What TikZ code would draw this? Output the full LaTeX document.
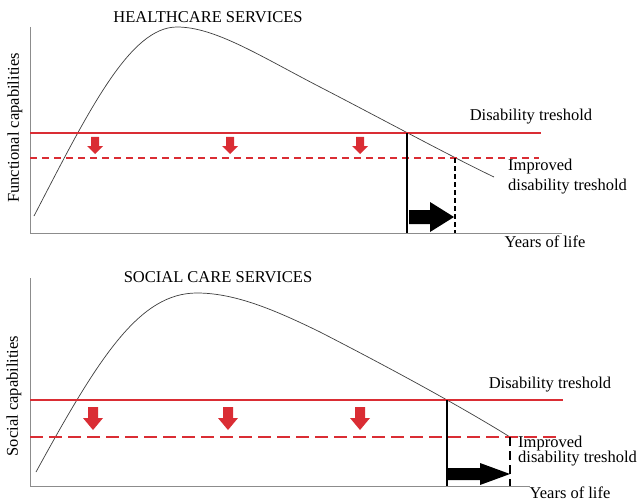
\documentclass[tikz,border=0pt]{standalone}
\usepackage{fontspec}
\setmainfont{Liberation Serif}
\usetikzlibrary{calc}
\definecolor{tresholdred}{RGB}{218,45,52}
\def\droparrow[#1](#2,#3)(#4:#5:#6:#7){\fill[#1] (#2-#4,#3) -- (#2+#4,#3) -- (#2+#4,#3+#6) -- (#2+#5,#3+#6) -- (#2,#3+#7) -- (#2-#5,#3+#6) -- (#2-#4,#3+#6) -- cycle;}
\def\pusharrow[#1](#2,#3)(#4:#5:#6:#7){\fill[#1] (#2,#3-#4) -- (#2+#6,#3-#4) -- (#2+#6,#3-#5) -- (#2+#7,#3) -- (#2+#6,#3+#5) -- (#2+#6,#3+#4) -- (#2,#3+#4) -- cycle;}

\begin{document}
\begin{tikzpicture}[x=1pt, y=-1pt, font=\fontsize{16.5}{20}\selectfont]
		%%%%% START %%%%%
		\useasboundingbox (0, 0) rectangle (638, 503);
		
		%%%%% HEALTHCARE %%%%%
		\draw[line width=0.3mm, color=black!45] (30, 27) -- (30, 233) -- (562, 233);
		\node (hcTitle) at (208, 17) {HEALTHCARE SERVICES};
		\node[rotate=90] (hcAxis) at (15, 128) {Functional capabilities};
		\node (hcYears) at (545, 242) {Years of life};
		
		\draw[line width=0.25mm, color=black!75] (34, 216) .. controls (89, 110) and (130, 27) .. (177, 27)
			.. controls (215, 27) and (260, 56) .. (320, 87)
			.. controls (380, 118) and (450, 156) .. (494, 177);
		
		\draw[line width=0.4mm, color=tresholdred] (30, 133) -- (541, 133);
		\draw[line width=0.4mm, color=tresholdred, dash pattern=on 7pt off 5pt] (30, 158) -- (539, 158);
		\node (hcTreshold) at (531, 117) {Disability treshold};
		\node[align=left, anchor=west, inner sep=0pt] (hcImproved) at (508, 177) {Improved\\disability treshold};
		
		\droparrow[tresholdred](95, 137)(4:8:9:17)
		\droparrow[tresholdred](230, 137)(4:8:9:17)
		\droparrow[tresholdred](360, 137)(4:8:9:17)
		
		\draw[line width=0.4mm] (407, 133) -- (407, 233);
		\draw[line width=0.4mm, dash pattern=on 5pt off 3pt] (455, 158) -- (455, 233);
		\pusharrow[black](409, 217)(7:15:21:45)
		
		%%%%% SOCIAL CARE %%%%%
		\draw[line width=0.3mm, color=black!45] (30, 278) -- (30, 486) -- (530, 486);
		\node (scTitle) at (218, 277) {SOCIAL CARE SERVICES};
		\node[rotate=90] (scAxis) at (14, 396) {Social capabilities};
		\node (scYears) at (570, 493) {Years of life};
		
		\draw[line width=0.25mm, color=black!75] (36, 472) .. controls (100, 355) and (140, 293) .. (197, 293)
			.. controls (235, 293) and (275, 310) .. (320, 332)
			.. controls (390, 368) and (460, 406) .. (510, 437);
		
		\draw[line width=0.4mm, color=tresholdred] (30, 400) -- (563, 400);
		\draw[line width=0.4mm, color=tresholdred, dash pattern=on 13pt off 6pt] (30, 437) -- (560, 437);
		\node (scTreshold) at (550, 385) {Disability treshold};
		\node[align=left, anchor=west, inner sep=0pt, font=\fontsize{16.5}{15}\selectfont] (scImproved) at (518, 451) {Improved\\disability treshold};
		
		\droparrow[tresholdred](93, 407)(5:10:11:23)
		\droparrow[tresholdred](228, 407)(5:10:11:23)
		\droparrow[tresholdred](360, 407)(5:10:11:23)
		
		\draw[line width=0.4mm] (447, 400) -- (447, 486);
		\draw[line width=0.4mm, dash pattern=on 9pt off 5pt] (510, 437) -- (510, 486);
		\pusharrow[black](448, 474)(6:11:32:62)
		
		%%%%% END %%%%%
	\end{tikzpicture}
\end{document}
